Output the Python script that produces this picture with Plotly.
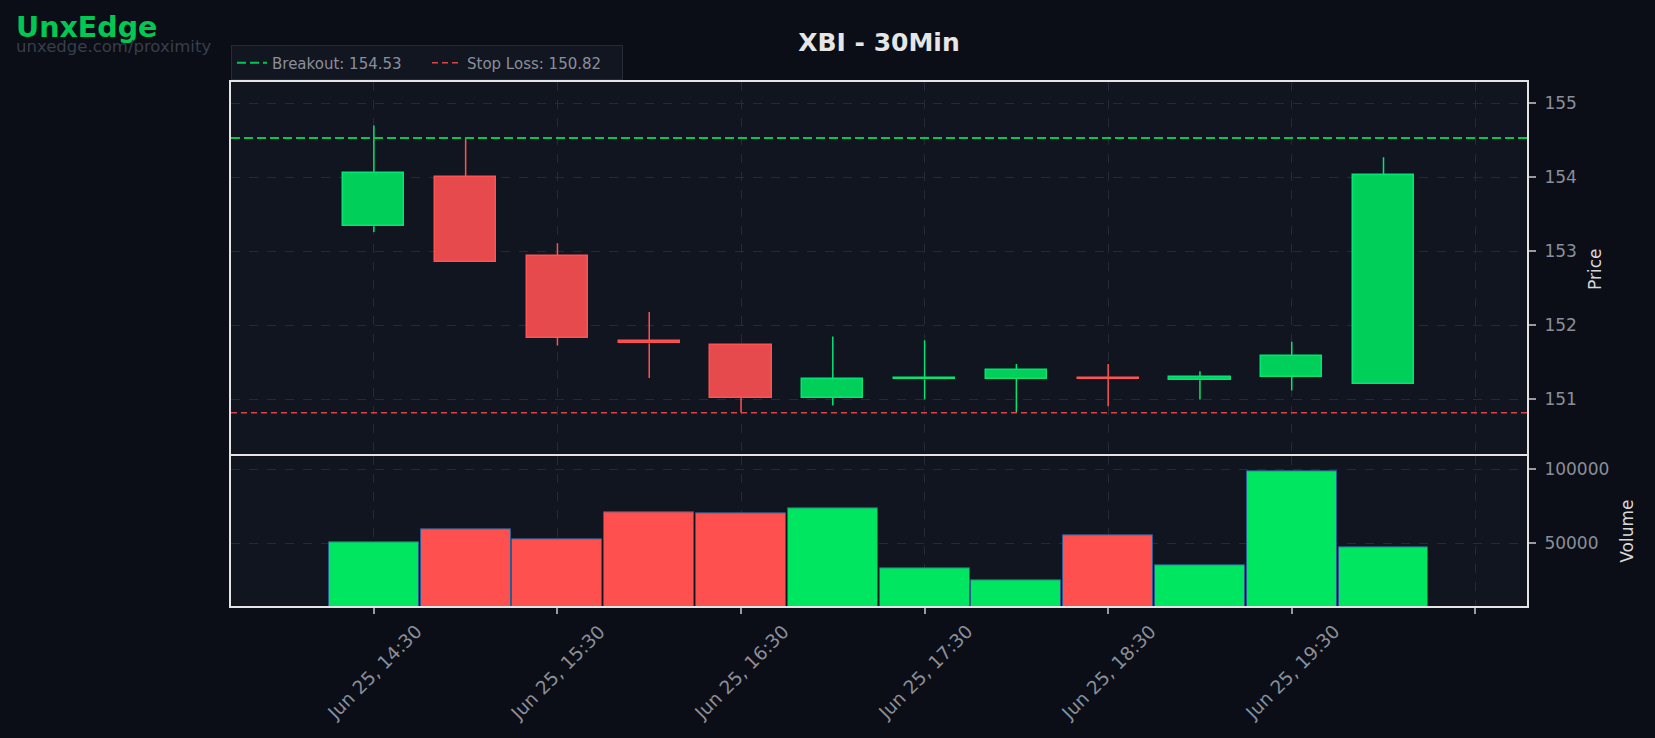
import pandas as pd
import plotly.graph_objects as go
from plotly.subplots import make_subplots

# ---------------- data ----------------
times = ["2025-06-25 14:30", "2025-06-25 15:00", "2025-06-25 15:30", "2025-06-25 16:00",
         "2025-06-25 16:30", "2025-06-25 17:00", "2025-06-25 17:30", "2025-06-25 18:00",
         "2025-06-25 18:30", "2025-06-25 19:00", "2025-06-25 19:30", "2025-06-25 20:00"]
opens = [153.34, 154.00, 152.94, 151.79, 151.73, 151.02, 151.27, 151.28, 151.29, 151.26, 151.31, 151.21]
highs = [154.70, 154.53, 153.11, 152.18, 151.73, 151.85, 151.80, 151.48, 151.48, 151.38, 151.78, 154.27]
lows = [153.26, 152.86, 151.73, 151.29, 150.82, 150.92, 151.00, 150.82, 150.91, 151.00, 151.12, 151.21]
closes = [154.06, 152.86, 151.83, 151.76, 151.02, 151.28, 151.29, 151.40, 151.28, 151.31, 151.59, 154.03]
volumes = [50700, 59500, 52700, 71000, 70300, 73700, 33100, 25000, 55400, 35100, 98400, 46800]

breakout = 154.53
stop_loss = 150.82

tick_times = ["2025-06-25 14:30", "2025-06-25 15:30", "2025-06-25 16:30", "2025-06-25 17:30",
              "2025-06-25 18:30", "2025-06-25 19:30", "2025-06-25 20:30"]
tick_labels = ["Jun 25, 14:30", "Jun 25, 15:30", "Jun 25, 16:30", "Jun 25, 17:30",
               "Jun 25, 18:30", "Jun 25, 19:30", ""]
price_ticks = [151, 152, 153, 154, 155]
volume_ticks = [50000, 100000]

# ---------------- style ----------------
FONT = "DejaVu Sans"
PAPER = "#0b0e16"
PLOT = "#11151f"
GRID = "#252a36"
FRAME = "#e4e4e4"
TICKC = "#8a8f9a"
UP_FILL, UP_EDGE = "#00cf5a", "#00e676"
DN_FILL, DN_EDGE = "#e64a4c", "#ff5252"
VOL_UP, VOL_DN = "#00e660", "#ff5050"

t = pd.to_datetime(times)
is_up = [c >= o for o, c in zip(opens, closes)]

fig = make_subplots(rows=2, cols=1, shared_xaxes=True, vertical_spacing=0,
                    row_heights=[0.7143, 0.2857])

# wicks (split so they don't cross bodies)
for up, col in ((True, UP_EDGE), (False, DN_EDGE)):
    wx, wy = [], []
    for ti, o, h, l, c, u in zip(t, opens, highs, lows, closes, is_up):
        if u != up:
            continue
        top, bot = max(o, c), min(o, c)
        wx += [ti, ti, None, ti, ti, None]
        wy += [h, top, None, bot, l, None]
    fig.add_trace(go.Scatter(x=wx, y=wy, mode="lines", line=dict(color=col, width=1.5),
                             showlegend=False, hoverinfo="skip"), row=1, col=1)

# bodies
body_w = 20 * 60 * 1000
fig.add_trace(go.Bar(
    x=t, y=[abs(c - o) for o, c in zip(opens, closes)],
    base=[min(o, c) for o, c in zip(opens, closes)],
    width=body_w,
    marker=dict(color=[UP_FILL if u else DN_FILL for u in is_up],
                line=dict(color=[UP_EDGE if u else DN_EDGE for u in is_up], width=1.5)),
    showlegend=False), row=1, col=1)

# volume
vol_w = 29.4 * 60 * 1000
fig.add_trace(go.Bar(
    x=t, y=volumes, width=vol_w,
    marker=dict(color=[VOL_UP if u else VOL_DN for u in is_up],
                line=dict(color="#2a5d8f", width=1)),
    showlegend=False), row=2, col=1)

# level lines (legend entries)
fig.add_shape(type="line", xref="x domain", x0=0, x1=1, yref="y", y0=breakout, y1=breakout,
              line=dict(color="#00c853", width=2, dash="9px,4px"),
              showlegend=True, name=f"Breakout: {breakout:.2f}")
fig.add_shape(type="line", xref="x domain", x0=0, x1=1, yref="y", y0=stop_loss, y1=stop_loss,
              line=dict(color="#d94546", width=1.5, dash="6px,4px"),
              showlegend=True, name=f"Stop Loss: {stop_loss:.2f}")

# x-axis labels (centred rotated labels)
for tv, tl in zip(tick_times, tick_labels):
    if not tl:
        continue
    fig.add_annotation(x=pd.Timestamp(tv), xref="x2", y=0, yref="paper", text=tl,
                       textangle=-45, showarrow=False, xanchor="center", yanchor="top",
                       yshift=-12, font=dict(family=FONT, size=18.5, color=TICKC))

# logo
fig.add_annotation(x=-0.1675, xref="paper", y=1.1037, yref="paper", text="<b>UnxEdge</b>",
                   showarrow=False, xanchor="left", yanchor="middle",
                   font=dict(family=FONT, size=28.5, color="#00c853"))
fig.add_annotation(x=-0.1675, xref="paper", y=1.0675, yref="paper", text="unxedge.com/proximity",
                   showarrow=False, xanchor="left", yanchor="middle",
                   font=dict(family=FONT, size=16.5, color="#393e4a"))

x0 = t[0] - pd.Timedelta(minutes=46.7)
x1 = t[-1] + pd.Timedelta(minutes=46.9)

xcommon = dict(range=[x0, x1], tickvals=pd.to_datetime(tick_times), showgrid=True,
               gridcolor=GRID, griddash="dash", gridwidth=1, showline=True,
               linecolor=FRAME, linewidth=2, zeroline=False)
fig.update_xaxes(**xcommon)
fig.update_xaxes(showticklabels=False, ticks="", side="top", mirror=False, row=1, col=1)
fig.update_xaxes(showticklabels=False, ticks="outside", ticklen=6, tickcolor="#9a9a9a",
                 tickwidth=1.5, mirror=True, row=2, col=1)

ycommon = dict(side="right", showgrid=True, gridcolor=GRID, griddash="dash", gridwidth=1,
               showline=True, linecolor=FRAME, linewidth=2, mirror=True, zeroline=False,
               ticks="outside", ticklen=7, tickcolor="#9a9a9a", tickwidth=1.5,
               tickfont=dict(family=FONT, size=17, color=TICKC), ticklabelstandoff=5)
fig.update_yaxes(**ycommon)
fig.update_yaxes(range=[150.233, 155.287], tickvals=price_ticks,
                 title=dict(text="Price", font=dict(family=FONT, size=17, color="#d8d8d8"),
                            standoff=13), row=1, col=1)
fig.update_yaxes(range=[7430, 108650], tickvals=volume_ticks, tickformat="d",
                 title=dict(text="Volume", font=dict(family=FONT, size=17, color="#d8d8d8"),
                            standoff=13), row=2, col=1)

fig.update_layout(
    width=1655, height=738,
    margin=dict(l=231, r=128, t=82, b=132),
    paper_bgcolor=PAPER, plot_bgcolor=PLOT,
    barmode="overlay", bargap=0,
    font=dict(family=FONT, color=TICKC),
    title=dict(text="<b>XBI - 30Min</b>", x=0.5, xref="paper", xanchor="center",
               y=1 - 42 / 738, yref="container", yanchor="middle",
               font=dict(family=FONT, size=25, color="#e6e6e6")),
    legend=dict(orientation="h", x=0, xanchor="left", y=1.003, yanchor="bottom",
                bgcolor="#121621", bordercolor="#262a35", borderwidth=1, entrywidth=150,
                font=dict(family=FONT, size=15, color=TICKC)),
    hovermode=False,
)

fig.write_html("out.html")
